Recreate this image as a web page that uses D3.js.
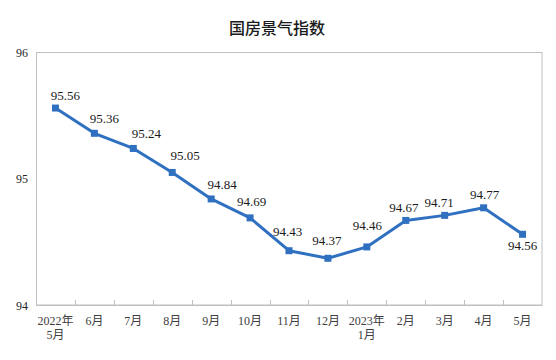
<!DOCTYPE html>
<html>
<head>
<meta charset="utf-8">
<script src="https://cdn.jsdelivr.net/npm/d3@7"></script>
<style>
  html, body { margin: 0; padding: 0; background: #fff; }
  svg { display: block; }
</style>
</head>
<body>
<svg id="chart" width="556" height="360"></svg>
<script>
// ---- data ----
const title = "国房景气指数";
const categories = ["2022年\n5月", "6月", "7月", "8月", "9月", "10月", "11月", "12月", "2023年\n1月", "2月", "3月", "4月", "5月"];
const values = [95.56, 95.36, 95.24, 95.05, 94.84, 94.69, 94.43, 94.37, 94.46, 94.67, 94.71, 94.77, 94.56];
const yTicks = [94, 95, 96];

// ---- label layout (offsets of each value label from its point) ----
const labelDx = [10, 10, 13, 13, 11, 1.5, -1.5, -1, 0.5, -2, -5.5, 1, 0];
const labelDy = [-8, -10, -10, -12, -10, -11.5, -15, -13, -16.5, -8.5, -8.5, -9, 15.5];

// ---- layout ----
const pLeft = 36, pRight = 542, pTop = 52.5, pBottom = 305;
const lineColor = "#2f70c0";
const serif = "'Liberation Serif', 'Times New Roman', 'Noto Sans CJK SC', serif";

const svg = d3.select("#chart");

const x = d3.scaleBand().domain(categories).range([pLeft, pRight]).padding(0);
const y = d3.scaleLinear().domain([94, 96]).range([pBottom, pTop]);
const cx = c => x(c) + x.bandwidth() / 2;

// title
svg.append("text")
  .attr("x", 277).attr("y", 34)
  .attr("text-anchor", "middle")
  .attr("font-family", "'Noto Sans CJK SC', sans-serif")
  .attr("font-size", 16)
  .attr("font-weight", 500)
  .attr("fill", "#1a1a1a")
  .text(title);

// plot border
svg.append("rect")
  .attr("x", pLeft + 0.5).attr("y", pTop)
  .attr("width", pRight - pLeft - 0.5).attr("height", pBottom - pTop)
  .attr("fill", "none")
  .attr("stroke", "#bfbfbf")
  .attr("stroke-width", 1);

// x axis (ticks pointing inward at band boundaries)
const xAxis = d3.axisBottom(x).tickSize(0).tickFormat("");
const gx = svg.append("g").attr("transform", `translate(0,${pBottom})`).call(xAxis);
gx.select(".domain").attr("stroke", "#bfbfbf");
gx.selectAll(".tick").remove();
gx.selectAll(".bnd")
  .data(categories.slice(1))
  .enter().append("line")
  .attr("class", "bnd")
  .attr("x1", c => Math.round(x(c)) + 0.5).attr("x2", c => Math.round(x(c)) + 0.5)
  .attr("y1", 0).attr("y2", -5)
  .attr("stroke", "#bfbfbf");

// category labels
const catG = svg.append("g");
categories.forEach(c => {
  const lines = c.split("\n");
  const t = catG.append("text")
    .attr("x", cx(c))
    .attr("y", 324.5)
    .attr("text-anchor", "middle")
    .attr("font-family", serif)
    .attr("font-size", 12)
    .attr("fill", "#404040");
  lines.forEach((l, i) => {
    t.append("tspan").attr("x", cx(c)).attr("dy", i === 0 ? 0 : 14.5).text(l);
  });
});

// y axis labels
const yAxis = d3.axisLeft(y).tickValues(yTicks).tickSize(0).tickPadding(8).tickFormat(d3.format("d"));
const gy = svg.append("g").attr("transform", `translate(${pLeft},0)`).call(yAxis);
gy.select(".domain").remove();
gy.selectAll("text")
  .attr("font-family", serif)
  .attr("font-size", 12)
  .attr("fill", "#262626")
  .attr("dy", "0.35em");

// line
const line = d3.line().x((d, i) => cx(categories[i])).y(d => y(d));
svg.append("path")
  .datum(values)
  .attr("d", line)
  .attr("fill", "none")
  .attr("stroke", lineColor)
  .attr("stroke-width", 3)
  .attr("stroke-linejoin", "round");

// markers
svg.selectAll(".mk")
  .data(values)
  .enter().append("rect")
  .attr("class", "mk")
  .attr("x", (d, i) => cx(categories[i]) - 3.5)
  .attr("y", d => y(d) - 3.5)
  .attr("width", 7).attr("height", 7)
  .attr("fill", lineColor);

// value labels
svg.selectAll(".vl")
  .data(values)
  .enter().append("text")
  .attr("class", "vl")
  .attr("x", (d, i) => cx(categories[i]) + labelDx[i])
  .attr("y", (d, i) => y(d) + labelDy[i])
  .attr("text-anchor", "middle")
  .attr("font-family", serif)
  .attr("font-size", 13)
  .attr("fill", "#1a1a1a")
  .text(d => d.toFixed(2));
</script>
</body>
</html>
